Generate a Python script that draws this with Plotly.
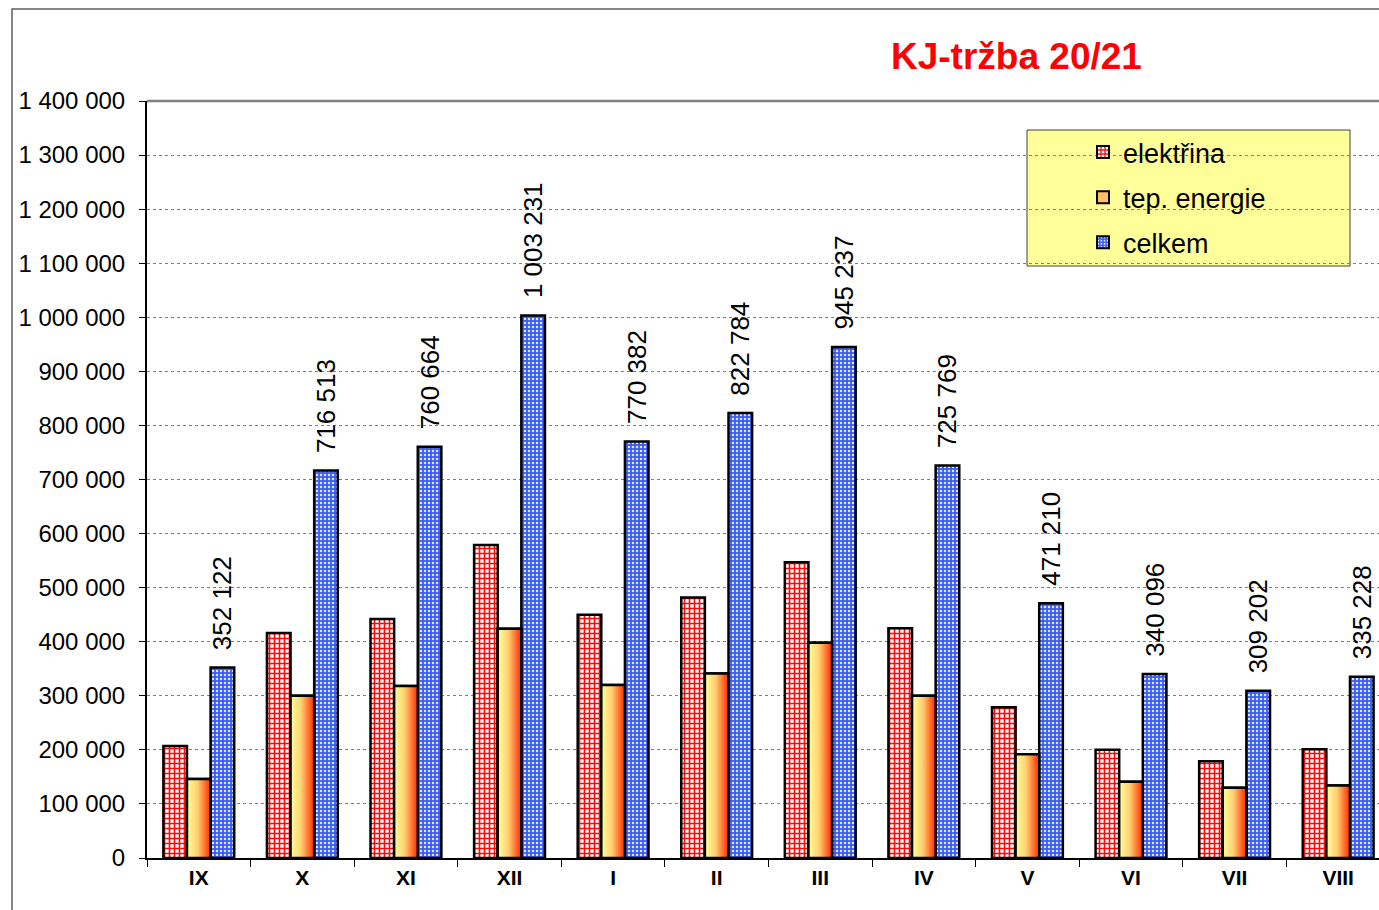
import plotly.graph_objects as go

months = ["IX", "X", "XI", "XII", "I", "II", "III", "IV", "V", "VI", "VII", "VIII"]
elektrina = [207000, 416000, 442000, 579000, 450000, 482000, 547000, 425000, 279000, 200000, 179000, 201000]
tep_energie = [146000, 300000, 318000, 424000, 320000, 341000, 398000, 300000, 192000, 141000, 130000, 134000]
celkem = [352122, 716513, 760664, 1003231, 770382, 822784, 945237, 725769, 471210, 340096, 309202, 335228]
y_ticks = list(range(0, 1400001, 100000))

FONT = "Liberation Sans, Arial, sans-serif"
W, H = 1379, 910
L, R, T, B = 147, 0, 101, 52
BW = 0.228

def fmt(v):
    return f"{v:,}".replace(",", " ")

xs = list(range(len(months)))
fig = go.Figure()

fig.add_trace(go.Bar(
    x=xs, y=elektrina, name="elektřina", legendgroup="e", width=BW, offset=-1.5 * BW,
    marker=dict(color="white", line=dict(color="black", width=2.5),
                pattern=dict(shape="+", fgcolor="#ff0a0a", bgcolor="white",
                             size=5, solidity=0.55, fillmode="replace")),
    hoverinfo="skip",
))

# tep. energie: real bars (data + legend), overlaid with horizontal gradient fill
fig.add_trace(go.Bar(
    x=xs, y=tep_energie, name="tep. energie", legendgroup="tep", width=BW, offset=-0.5 * BW,
    marker=dict(color="#ffc060", line=dict(color="black", width=2.5)),
    hoverinfo="skip",
))
for i, v in enumerate(tep_energie):
    x0, x1 = i - BW / 2, i + BW / 2
    fig.add_trace(go.Scatter(
        x=[x0, x1, x1, x0, x0], y=[0, 0, v, v, 0],
        mode="lines", fill="toself",
        fillgradient=dict(type="horizontal",
                          colorscale=[[0, "#ffff9c"], [0.45, "#ffcf70"], [1, "#ff2a00"]]),
        line=dict(color="black", width=2.5),
        legendgroup="tep", showlegend=False, hoverinfo="skip",
    ))

fig.add_trace(go.Bar(
    x=xs, y=celkem, name="celkem", legendgroup="c", width=BW, offset=0.5 * BW,
    marker=dict(color="#3a5cf2", line=dict(color="black", width=2.5),
                pattern=dict(shape=".", fgcolor="#dfe6ff", bgcolor="#3a5cf2",
                             size=4, solidity=0.3, fillmode="replace")),
    text=["\u00a0\u00a0" + fmt(v) for v in celkem],
    textposition="outside", textangle=-90, constraintext="none",
    textfont=dict(family=FONT, size=26, color="black"),
    cliponaxis=False, hoverinfo="skip",
))

pw = W - L - R
ph = H - T - B
def px(x):
    return (x - L) / pw
def py(y):
    return (H - B - y) / ph

shapes = [
    # outer frame
    dict(type="rect", xref="paper", yref="paper", x0=px(12), x1=1.2, y0=-0.3, y1=py(9),
         line=dict(color="#606060", width=1.5), fillcolor="rgba(0,0,0,0)", layer="below"),
    # top line
    dict(type="line", xref="paper", yref="paper", x0=0, x1=1, y0=1, y1=1,
         line=dict(color="#808080", width=2.5)),
    # legend box
    dict(type="rect", xref="paper", yref="paper", x0=px(1027), x1=px(1350), y0=py(266), y1=py(130),
         line=dict(color="#404040", width=1), fillcolor="#ffff99", layer="below"),
]

fig.update_layout(
    width=W, height=H,
    margin=dict(l=L, r=R, t=T, b=B),
    paper_bgcolor="white", plot_bgcolor="white",
    separators=", ",
    barmode="overlay",
    font=dict(family=FONT, color="black"),
    showlegend=True,
    legend=dict(x=px(1083), y=py(128), xanchor="left", yanchor="top",
                bgcolor="rgba(0,0,0,0)", borderwidth=0,
                font=dict(family=FONT, size=27, color="black"),
                traceorder="grouped", tracegroupgap=7, itemsizing="constant"),
    shapes=shapes,
    annotations=[dict(text="<b>KJ-tržba 20/21</b>", xref="paper", yref="paper",
                      x=px(1016), y=py(57), xanchor="center", yanchor="middle",
                      showarrow=False, font=dict(family=FONT, size=37, color="#ff0000"))],
    xaxis=dict(range=[-0.5, 11.5 - 11 / 104], tickvals=xs,
               ticktext=[f"<b>{m}</b>" for m in months],
               ticks="", showgrid=False, zeroline=False,
               showline=True, linecolor="black", linewidth=2,
               tickfont=dict(family=FONT, size=21, color="black"),
               minor=dict(ticks="outside", tick0=0.5, dtick=1, ticklen=7,
                          tickcolor="black", tickwidth=1, showgrid=False),
               fixedrange=True),
    yaxis=dict(range=[0, 1400000], tickvals=y_ticks, tickformat=",d",
               ticks="outside", ticklen=6, tickcolor="black", tickwidth=1,
               ticklabelstandoff=9,
               showgrid=True, gridcolor="#808080", griddash="dot", gridwidth=1,
               zeroline=False, showline=True, linecolor="black", linewidth=2,
               tickfont=dict(family=FONT, size=24, color="black"),
               fixedrange=True),
)

fig.write_html(
    "out.html",
    config={"displayModeBar": False},
    post_script="document.body.style.margin='0';"
                "document.documentElement.style.overflow='hidden';"
                "document.body.style.overflow='hidden';",
)
